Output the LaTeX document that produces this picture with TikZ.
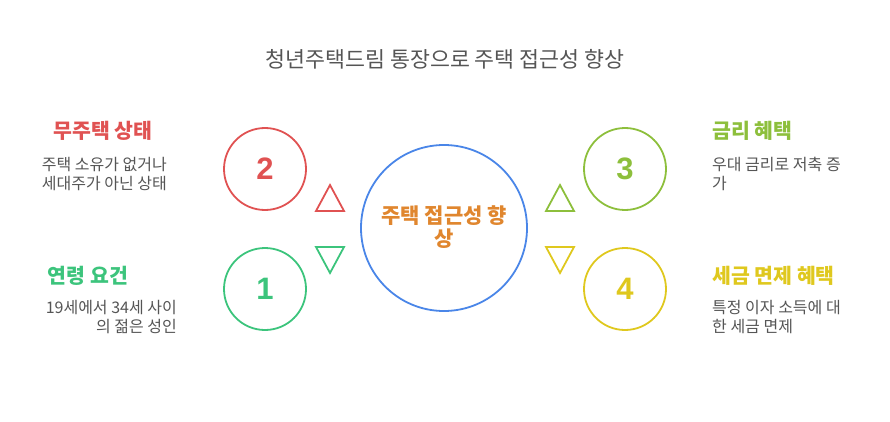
\documentclass[tikz,border=0pt]{standalone}
\usepackage{fontspec}
\setmainfont{Noto Sans CJK KR}
\newfontfamily\digitfont{Liberation Sans}
\definecolor{cred}{HTML}{E05252}
\definecolor{cgreen}{HTML}{3CC47C}
\definecolor{clime}{HTML}{8DBF3C}
\definecolor{cyellow}{HTML}{DFC81E}
\definecolor{cblue}{HTML}{4A86E8}
\definecolor{corange}{HTML}{E0862E}
\definecolor{ctext}{HTML}{555555}
\begin{document}
\begin{tikzpicture}[x=1pt,y=-1pt,
  ring/.style={circle,draw,line width=1.8pt,minimum size=82pt,inner sep=0pt},
  num/.style={font=\digitfont\bfseries\fontsize{31}{31}\selectfont},
  head/.style={font=\bfseries\fontsize{20.5}{22}\selectfont,inner sep=0pt},
  desc/.style={font=\fontsize{16}{19.5}\selectfont,text=ctext,inner sep=0pt},
  tri/.style={line width=1.8pt,line join=miter}]
\useasboundingbox (0,0) rectangle (890,422);
\node[font=\fontsize{21.7}{23}\selectfont,text=ctext] (title) at (445,59) {청년주택드림 통장으로 주택 접근성 향상};
% center
\node[circle,draw=cblue,line width=1.8pt,minimum size=166pt,inner sep=0pt] (c) at (444,228) {};
\node[font=\bfseries\fontsize{21}{23.5}\selectfont,text=corange,align=center] (ct) at (444,227) {주택 접근성 향\\상};
% circles
\node[ring,draw=cred,text=cred,num] (n2) at (265,169) {2};
\node[ring,draw=cgreen,text=cgreen,num] (n1) at (265,289) {1};
\node[ring,draw=clime,text=clime,num] (n3) at (625,169) {3};
\node[ring,draw=cyellow,text=cyellow,num] (n4) at (625,289) {4};
% triangles
\draw[tri,cred] (316,211) -- (344,211) -- (330,185) -- cycle;
\draw[tri,cgreen] (316,247) -- (344,247) -- (330,273) -- cycle;
\draw[tri,clime] (546,211) -- (574,211) -- (560,185) -- cycle;
\draw[tri,cyellow] (546,247) -- (574,247) -- (560,273) -- cycle;
% left texts
\node[head,text=cred] (h2) at (103,131) {무주택 상태};
\node[desc,align=right,anchor=east] (d2) at (167,174) {주택 소유가 없거나\\세대주가 아닌 상태};
\node[head,text=cgreen] (h1) at (88,276) {연령 요건};
\node[desc,align=right,anchor=east] (d1) at (177,317) {19세에서 34세 사이\\의 젊은 성인};
% right texts
\node[head,text=clime,anchor=west] (h3) at (712,131) {금리 혜택};
\node[desc,align=left,anchor=west] (d3) at (712,174) {우대 금리로 저축 증\\가};
\node[head,text=cyellow,anchor=west] (h4) at (712,276) {세금 면제 혜택};
\node[desc,align=left,anchor=west] (d4) at (712,317) {특정 이자 소득에 대\\한 세금 면제};
\end{tikzpicture}
\end{document}
